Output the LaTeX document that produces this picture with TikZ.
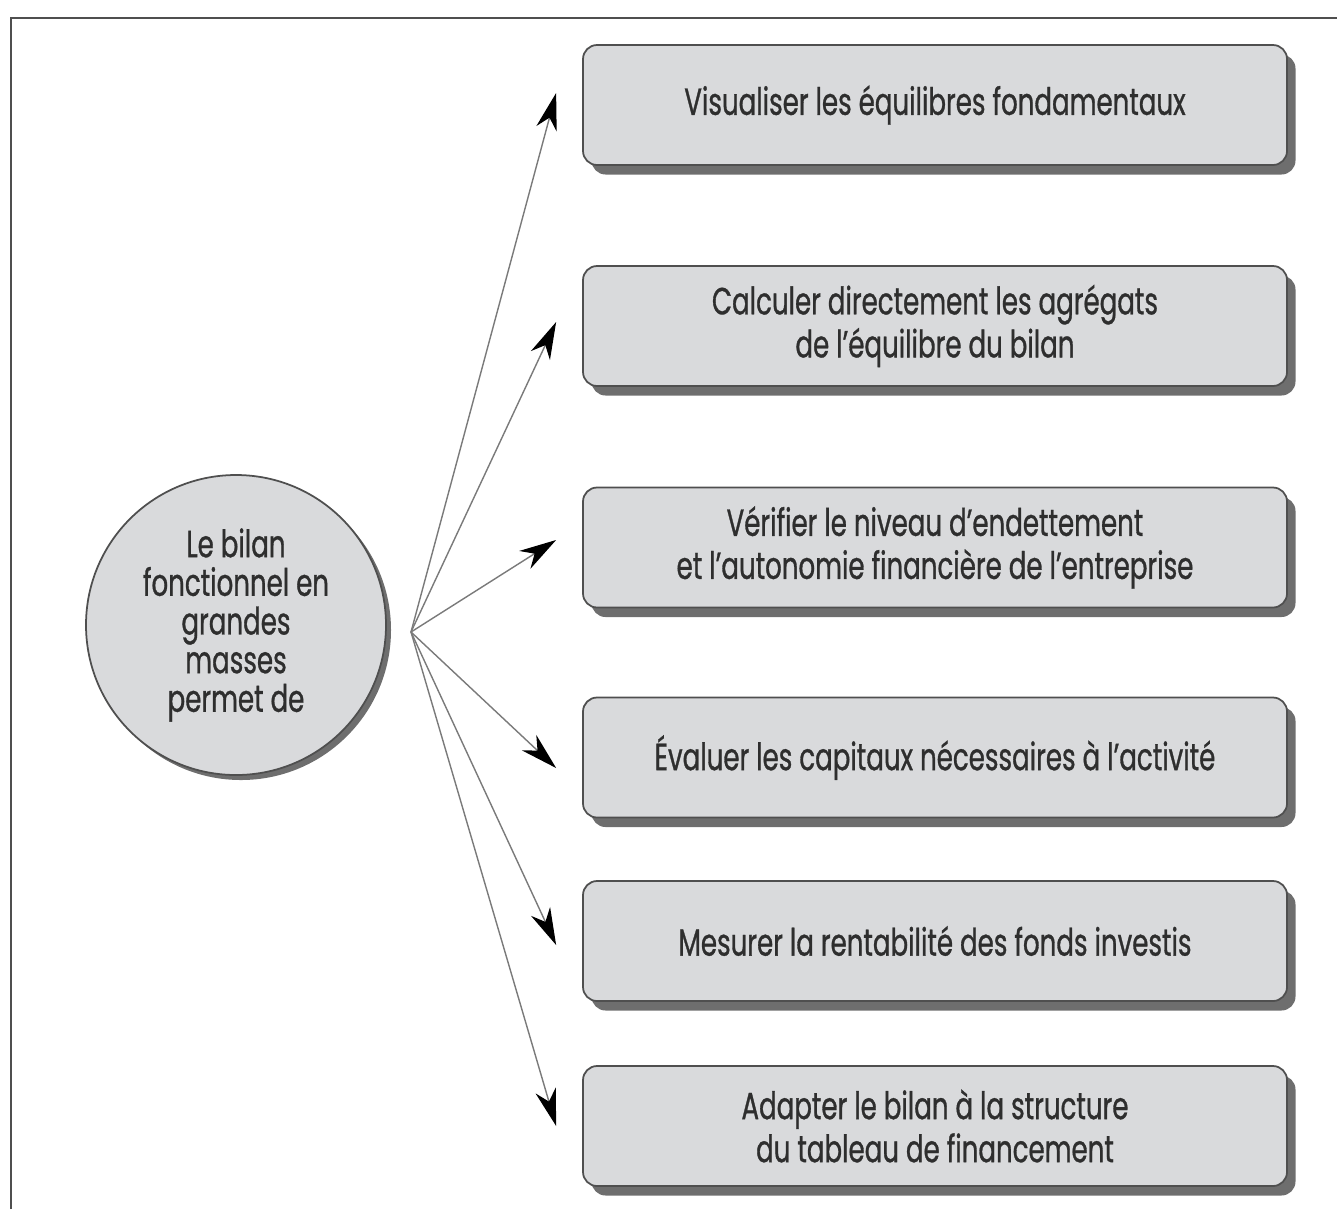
\documentclass[tikz,border=0pt]{standalone}
\usepackage{fontspec}
\setmainfont{Poppins}[FakeStretch=0.69, FakeBold=0.8]
\usetikzlibrary{arrows.meta, shadows}
\definecolor{bilanFill}{HTML}{D9DADC}
\definecolor{bilanEdge}{HTML}{4F4F4F}
\definecolor{bilanShadow}{HTML}{6E6E6E}
\definecolor{bilanText}{HTML}{2E2E2E}
\definecolor{arrowGray}{HTML}{7A7A7A}
\tikzset{
  arrowK/.style={-{Stealth[length=7.4mm, width=4.2mm, inset=2.3mm, color=black]},
                 draw=arrowGray, line width=0.8pt},
  boxF/.style={rectangle, rounded corners=8pt, draw=bilanEdge, line width=1pt,
               fill=bilanFill, text=bilanText, align=center,
               font=\fontsize{21.5}{24.5}\selectfont,
               minimum width=14.08cm, minimum height=2.4cm,
               drop shadow={shadow xshift=0.17cm, shadow yshift=-0.19cm,
                            fill=bilanShadow, opacity=1}},
  roundF/.style={circle, draw=bilanEdge, line width=1pt, fill=bilanFill,
                 text=bilanText, align=center, inner sep=0pt,
                 font=\fontsize{21.5}{22}\selectfont, minimum size=6cm,
                 drop shadow={shadow xshift=0.1cm, shadow yshift=-0.1cm,
                              fill=bilanShadow, opacity=1}},
}
\begin{document}
\begin{tikzpicture}
    \useasboundingbox (0,0) rectangle (26.74,-24.18);
    % cadre
    \draw[line width=1.6pt, bilanEdge] (0.22,-24.18) -- (0.22,-0.36) -- (26.74,-0.36);
    \node[roundF] (bilan) at (4.72,-12.5)
          {Le bilan\\fonctionnel en\\grandes\\masses\\permet de};
    \node[boxF] (b1) at (18.7,-2.1)   {Visualiser les équilibres fondamentaux};
    \node[boxF] (b2) at (18.7,-6.52)  {Calculer directement les agrégats\\de l'équilibre du bilan};
    \node[boxF] (b3) at (18.7,-10.95) {Vérifier le niveau d'endettement\\et l'autonomie financière de l'entreprise};
    \node[boxF] (b4) at (18.7,-15.15) {Évaluer les capitaux nécessaires à l'activité};
    \node[boxF] (b5) at (18.7,-18.82) {Mesurer la rentabilité des fonds investis};
    \node[boxF] (b6) at (18.7,-22.52) {Adapter le bilan à la structure\\du tableau de financement};
    \coordinate (hub) at (8.22,-12.64);
    \draw[arrowK] (hub) -- ([xshift=-5.2mm, yshift=2.4mm]b1.west);
    \draw[arrowK] (hub) -- ([xshift=-5.2mm, yshift=0.8mm]b2.west);
    \draw[arrowK] (hub) -- ([xshift=-5.2mm, yshift=1.5mm]b3.west);
    \draw[arrowK] (hub) -- ([xshift=-5.2mm, yshift=-2.1mm]b4.west);
    \draw[arrowK] (hub) -- ([xshift=-5.2mm, yshift=-0.8mm]b5.west);
    \draw[arrowK] (hub) -- ([xshift=-5.2mm]b6.west);
\end{tikzpicture}
\end{document}
